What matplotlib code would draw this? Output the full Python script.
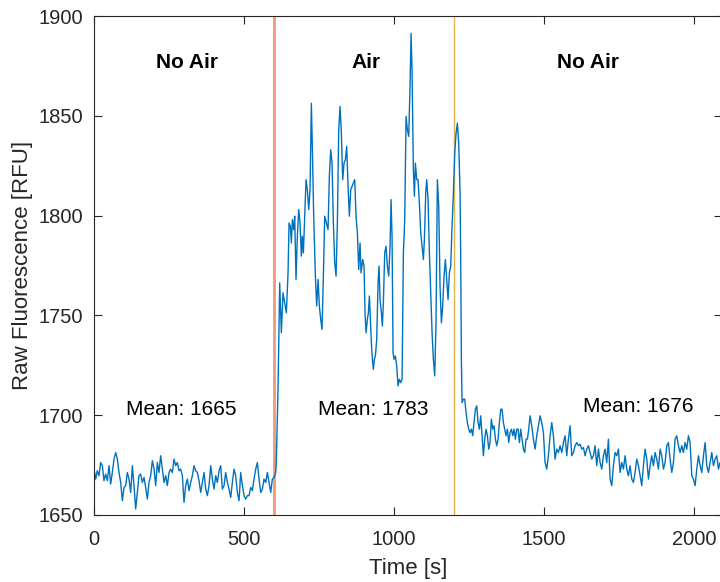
import numpy as np
import matplotlib
matplotlib.use("Agg")
import matplotlib.pyplot as plt

plt.rcParams['font.family'] = ['Liberation Sans', 'DejaVu Sans']

# ---- data ----
# Segment A: no air, uniform sampling
t_a = np.linspace(0, 605.6, 110)
v_a = [1673, 1668, 1672.2, 1669.7, 1676.3, 1674.7, 1667.2, 1670.5, 1667.2, 1674.7,
       1665.5, 1671.3, 1678, 1681.3, 1678, 1671.3, 1666.3, 1657.2, 1663.8, 1664.7,
       1671.3, 1668, 1661.3, 1674.7, 1664.7, 1653, 1661.3, 1669.7, 1670.5, 1666.3,
       1668.8, 1663.8, 1658, 1666.3, 1669.7, 1677.2, 1673, 1664.7, 1676.3, 1671.3,
       1679.7, 1673, 1666.3, 1669.7, 1664.7, 1671.3, 1673, 1671.3, 1678, 1674.7,
       1676.3, 1672.2, 1673, 1669.7, 1656.3, 1664.7, 1668, 1662.2, 1666.3, 1669.7,
       1674.7, 1672.2, 1671.3, 1667.2, 1661.3, 1666.3, 1671.3, 1663, 1659.7, 1664.7,
       1674.7, 1668, 1663, 1669.7, 1666.3, 1672.2, 1674.7, 1663, 1664.7, 1671.3,
       1666.3, 1663, 1658.8, 1666.3, 1673, 1669.7, 1661.3, 1657.2, 1671.3, 1664.7,
       1659.7, 1658, 1659.7, 1659.7, 1663.8, 1662.2, 1668, 1673, 1676.3, 1668,
       1661.3, 1663, 1668, 1666.3, 1671.3, 1666.3, 1661.3, 1668, 1668.8, 1671.3]

# Segment B: air phase and return (irregular read-off times)
t_b = [607.8, 613.3, 618.9, 624.4, 630, 635.6, 641.1, 646.7, 650, 654.4,
       657.8, 661.1, 665.6, 668.9, 673.3, 677.8, 682.2, 686.7, 691.1, 694.4,
       697.8, 702.2, 706.7, 711.1, 715.6, 720, 724.4, 727.8, 732.2, 737.8,
       742.2, 746.7, 751.1, 755.6, 760, 764.4, 768.9, 774.4, 780, 784.4,
       788.9, 793.3, 797.8, 802.2, 806.7, 811.1, 815.6, 820, 824.4, 828.9,
       833.3, 837.8, 842.2, 846.7, 851.1, 855.6, 860, 864.4, 868.9, 873.3,
       877.8, 882.2, 886.7, 890, 895.6, 900, 903.3, 906.7, 911.1, 914.4,
       917.8, 921.1, 924.4, 927.8, 931.1, 934.4, 937.8, 942.2, 946.7, 950,
       953.3, 957.8, 961.1, 964.4, 968.9, 973.3, 977.8, 982.2, 986.7, 990,
       993.3, 996.7, 1000, 1004.4, 1008.9, 1013.3, 1017.8, 1022.2, 1026.7, 1031.1,
       1035.6, 1040, 1044.4, 1048.9, 1053.3, 1056.7, 1060, 1064.4, 1067.8, 1071.1,
       1075.6, 1080, 1084.4, 1088.9, 1093.3, 1097.8, 1101.1, 1105.6, 1108.9, 1113.3,
       1117.8, 1122.2, 1126.7, 1131.1, 1135.6, 1140, 1144.4, 1148.9, 1153.3, 1157.8,
       1162.2, 1166.7, 1171.1, 1175.6, 1180, 1184.4, 1188.9, 1193.3, 1197.8, 1202.2,
       1206.7, 1211.1, 1215.6, 1220, 1222.2, 1224.4, 1226.7, 1231.1, 1235.6, 1240,
       1244.4, 1248.9, 1253.3, 1257.8, 1262.2, 1266.7, 1271.1, 1275.6, 1280, 1284.4,
       1288.9, 1293.3, 1297.8, 1302.2, 1306.7, 1311.1, 1315.6, 1320, 1324.4, 1328.9,
       1333.3, 1337.8, 1342.2, 1346.7, 1351.1, 1355.6, 1360, 1364.4, 1368.9, 1373.3,
       1377.8, 1382.2, 1386.7, 1391.1, 1395.6, 1400, 1404.4, 1408.9, 1413.3, 1417.8,
       1422.2, 1426.7, 1431.1, 1435.6, 1440, 1444.4, 1448.9, 1453.3]
v_b = [1678, 1713, 1766.3, 1741.3, 1761.3, 1756.3, 1751.3, 1771.3, 1796.3, 1794.7,
       1786.3, 1798, 1793, 1799.7, 1768, 1789.7, 1803, 1796.3, 1779.7, 1789.7,
       1781.3, 1799.7, 1818, 1813, 1803, 1813, 1856.3, 1833, 1799.7, 1769.7,
       1754.7, 1768, 1754.7, 1748, 1743, 1769.7, 1799.7, 1796.3, 1793, 1819.7,
       1833, 1826.3, 1796.3, 1776.3, 1769.7, 1796.3, 1843, 1854.7, 1841.3, 1818,
       1826.3, 1828, 1834.7, 1814.7, 1799.7, 1813, 1814.7, 1816.3, 1818, 1799.7,
       1791.3, 1773, 1786.3, 1771.3, 1778, 1774.7, 1751.3, 1741.3, 1748, 1751.3,
       1759.7, 1748, 1736.3, 1728, 1723, 1728, 1729.7, 1738, 1766.3, 1774.7,
       1758, 1751.3, 1744.7, 1756.3, 1781.3, 1784.7, 1774.7, 1769.7, 1784.7, 1808,
       1789.7, 1731.3, 1728, 1729.7, 1724.7, 1714.7, 1718, 1716.3, 1718, 1781.3,
       1798, 1849.7, 1843, 1839.7, 1864.7, 1891.3, 1873, 1823, 1809.7, 1826.3,
       1818, 1818, 1806.3, 1791.3, 1784.7, 1778, 1788, 1811.3, 1818, 1808,
       1781.3, 1761.3, 1741.3, 1728, 1719.7, 1748, 1818, 1804.7, 1764.7, 1746.3,
       1754.7, 1769.7, 1778, 1768, 1758, 1771.3, 1774.7, 1794.7, 1811.3, 1831.3,
       1841.3, 1846.3, 1836.3, 1811.3, 1778, 1728, 1706.3, 1708, 1708, 1701.3,
       1696.3, 1693, 1691.3, 1693, 1689.7, 1696.3, 1703, 1704.7, 1696.3, 1693,
       1699.7, 1689.7, 1679.7, 1688, 1693, 1689.7, 1683, 1686.3, 1698, 1693,
       1694.7, 1688, 1684.7, 1688, 1696.3, 1703, 1703, 1696.3, 1693, 1689.7,
       1693, 1686.3, 1691.3, 1693, 1689.7, 1693, 1688, 1693, 1693, 1686.3,
       1693, 1688, 1683, 1681.3, 1688, 1688, 1693, 1699.7]

# Segment C: late no-air phase, uniform sampling
t_c = np.linspace(1458.9, 2086.7, 114)
v_c = [1694.7, 1688, 1683, 1689.7, 1694.7, 1699.7, 1696.3, 1691.3, 1676.3, 1673,
       1679.7, 1689.7, 1696.3, 1689.7, 1678, 1683, 1681.3, 1684.7, 1681.3, 1686.3,
       1689.7, 1679.7, 1688, 1694.7, 1679.7, 1681.3, 1684.7, 1686.3, 1684.7, 1685.5,
       1683, 1683.8, 1679.7, 1683, 1684.7, 1681.3, 1678, 1679.7, 1684.7, 1674.7,
       1683, 1676.3, 1673, 1679.7, 1683, 1676.3, 1688, 1668, 1664.7, 1674.7,
       1681.3, 1679.7, 1683, 1671.3, 1676.3, 1673, 1679.7, 1673, 1669.7, 1674.7,
       1668, 1666.3, 1671.3, 1678, 1674.7, 1669.7, 1664.7, 1674.7, 1683, 1678,
       1668, 1674.7, 1679.7, 1674.7, 1681.3, 1678, 1673, 1683, 1679.7, 1673,
       1676.3, 1684.7, 1686.3, 1678, 1671.3, 1676.3, 1688, 1689.7, 1684.7, 1681.3,
       1684.7, 1681.3, 1686.3, 1683, 1689.7, 1686.3, 1669.7, 1668, 1664.7, 1673,
       1679.7, 1674.7, 1671.3, 1679.7, 1686.3, 1674.7, 1671.3, 1676.3, 1681.3, 1674.7,
       1678, 1679.7, 1673, 1676.3]

air_on = 600
air_off = 1200
phase_labels = ["No Air", "Air", "No Air"]
phase_label_x = [310, 907, 1647]
mean_labels = ["Mean: 1665", "Mean: 1783", "Mean: 1676"]
mean_label_x = [290, 930, 1813]
mean_label_y = [1703, 1703, 1704.5]
xticks = [0, 500, 1000, 1500, 2000]
yticks = [1650, 1700, 1750, 1800, 1850, 1900]

t_all = np.concatenate([t_a, t_b, t_c])
v_all = np.concatenate([v_a, v_b, v_c])

# ---- figure ----
fig = plt.figure(figsize=(7.2, 5.82), dpi=100)
ax = fig.add_axes([94/720, 67/582, 628/720, 499/582])

ax.axvline(air_on, color='#EE9A78', lw=2.0, zorder=1)
ax.axvline(air_off, color='#E3B24A', lw=1.0, zorder=1)
ax.plot(t_all, v_all, color='#0072BD', lw=1.0, zorder=2)

ax.set_xlim(0, 2093)
ax.set_ylim(1650, 1900)
ax.set_xticks(xticks)
ax.set_yticks(yticks)

dark = '#262626'
ax.tick_params(direction='in', length=6, width=0.8, colors=dark, labelsize=14.5,
               top=True, right=True, pad=8)
ax.tick_params(axis='x', pad=11)
for s in ax.spines.values():
    s.set_color(dark)
    s.set_linewidth(0.8)

for lbl, x in zip(phase_labels, phase_label_x):
    ax.text(x, 1876.5, lbl, ha='center', va='center', fontsize=15, fontweight='bold', color='black')
for lbl, x, y in zip(mean_labels, mean_label_x, mean_label_y):
    ax.text(x, y, lbl, ha='center', va='center', fontsize=15, color='black')

ax.set_xlabel('Time [s]', fontsize=16, color=dark, labelpad=6)
ax.set_ylabel('Raw Fluorescence [RFU]', fontsize=16, color=dark, labelpad=4)

fig.savefig('out.png', dpi=100)
